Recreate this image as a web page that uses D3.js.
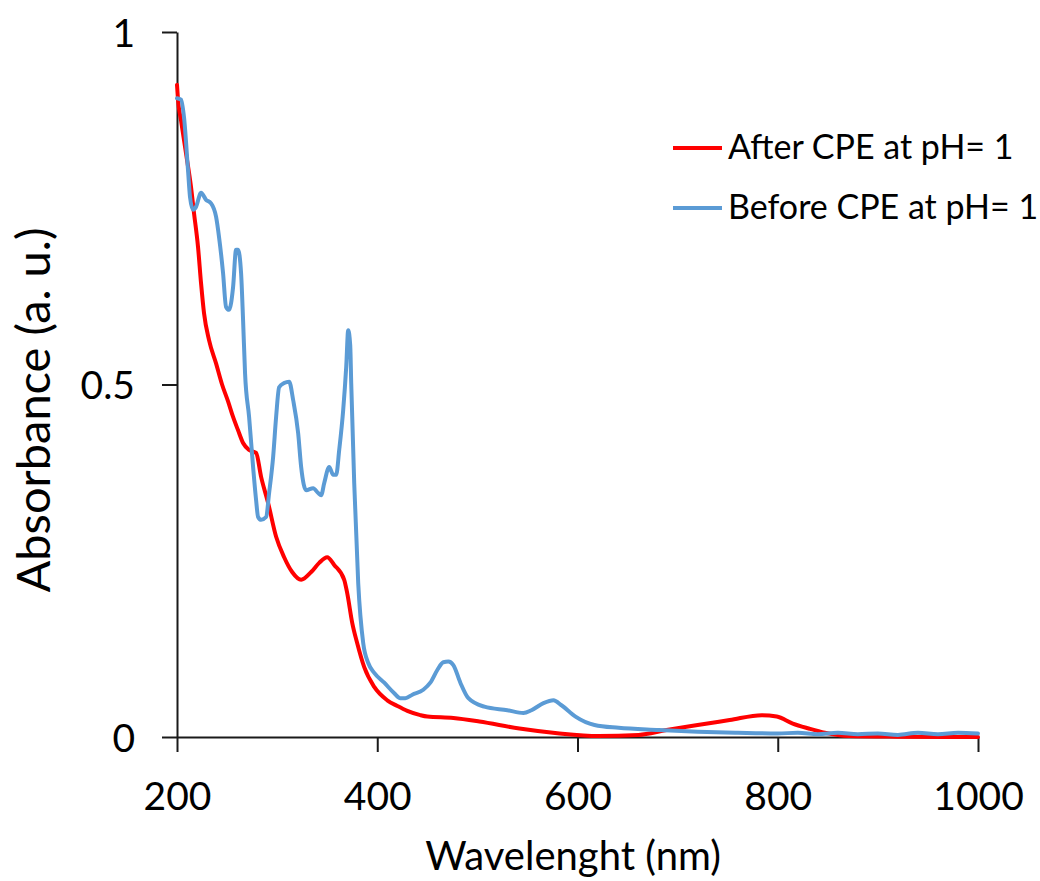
<!DOCTYPE html>
<html>
<head>
<meta charset="utf-8">
<script src="https://cdn.jsdelivr.net/npm/d3@7/dist/d3.min.js"></script>
<style>
  html, body { margin: 0; padding: 0; background: #fff; }
  svg { display: block; }
  text { font-family: Lato, "Open Sans", sans-serif; fill: #000; }
</style>
</head>
<body>
<svg id="chart" width="1040" height="881"></svg>
<script>
// ---- data ----
const beforeWavelength = [200,204,207,211,213,216,219,224,229,234,239,242,246,249,252,256,259,261,264,266,268,272,276,279,281,284,289,292,296,299,302,307,312,316,321,324,329,336,341,344,347,352,356,359,362,366,369,371,373,374,377,381,386,391,397,407,417,423,428,435,446,453,460,466,471,476,483,491,507,530,546,554,566,576,584,598,617,641,681,720,760,800,820,840,860,880,900,920,940,960,980,1000];
const beforeAbsorbance = [0.906,0.904,0.879,0.804,0.766,0.748,0.752,0.772,0.762,0.757,0.738,0.709,0.658,0.610,0.606,0.638,0.691,0.691,0.658,0.591,0.515,0.454,0.383,0.336,0.312,0.308,0.312,0.346,0.397,0.454,0.496,0.502,0.504,0.478,0.431,0.383,0.350,0.353,0.346,0.343,0.360,0.383,0.372,0.372,0.407,0.464,0.525,0.577,0.556,0.502,0.360,0.218,0.133,0.105,0.091,0.077,0.062,0.055,0.055,0.060,0.067,0.077,0.095,0.106,0.107,0.102,0.077,0.055,0.043,0.038,0.034,0.038,0.048,0.052,0.045,0.029,0.017,0.013,0.010,0.0075,0.006,0.005,0.006,0.004,0.006,0.004,0.005,0.003,0.006,0.004,0.006,0.005];

const afterWavelength = [200,201,204,209,214,217,221,224,227,232,239,245,251,256,261,266,272,279,284,291,299,307,315,324,334,342,350,357,367,370,375,380,387,397,410,420,430,443,450,476,502,542,582,621,661,689,720,752,784,799,815,831,847,871,919,1000];
const afterAbsorbance = [0.925,0.904,0.875,0.828,0.780,0.743,0.695,0.644,0.601,0.563,0.530,0.500,0.476,0.454,0.435,0.417,0.407,0.403,0.369,0.332,0.284,0.255,0.234,0.223,0.234,0.247,0.255,0.244,0.223,0.204,0.162,0.133,0.099,0.071,0.052,0.044,0.037,0.031,0.029,0.027,0.022,0.012,0.005,0.0014,0.003,0.010,0.017,0.024,0.031,0.029,0.019,0.012,0.006,0.0014,0.0005,0.0];

const seriesNames = ["After CPE at pH= 1", "Before CPE at pH= 1"];
const seriesColors = ["#ff0000", "#5b9bd5"];
const xTicks = [200, 400, 600, 800, 1000];
const yTicks = [0, 0.5, 1];
const yTickLabels = ["0", "0.5", "1"];
const xTitle = "Wavelenght (nm)";
const yTitle = "Absorbance (a. u.)";

// ---- layout ----
const svg = d3.select("#chart");
const x = d3.scaleLinear().domain([200, 1000]).range([177, 978]);
const y = d3.scaleLinear().domain([0, 1]).range([737, 32]);

const series = [
  {name: seriesNames[0], color: seriesColors[0], pts: afterWavelength.map((w, i) => [w, afterAbsorbance[i]])},
  {name: seriesNames[1], color: seriesColors[1], pts: beforeWavelength.map((w, i) => [w, beforeAbsorbance[i]])}
];

const line = d3.line().x(d => x(d[0])).y(d => y(d[1])).curve(d3.curveMonotoneX);

// axes
const axisColor = "#1a1a1a";
const yAxis = svg.append("g").attr("transform", `translate(${x(200)},0)`)
  .call(d3.axisLeft(y).tickValues(yTicks).tickSize(15).tickSizeOuter(0)
        .tickFormat((d, i) => yTickLabels[i]));
const xAxis = svg.append("g").attr("transform", `translate(0,${y(0)})`)
  .call(d3.axisBottom(x).tickValues(xTicks).tickSize(15).tickSizeOuter(0)
        .tickFormat(d3.format("d")));

[yAxis, xAxis].forEach(g => {
  g.select(".domain").attr("stroke", axisColor).attr("stroke-width", 2);
  g.selectAll(".tick line").attr("stroke", axisColor).attr("stroke-width", 2);
  g.selectAll(".tick text").attr("font-family", "Lato, sans-serif").attr("font-size", 39).attr("fill", "#000");
});
yAxis.selectAll(".tick text").attr("x", -42).attr("dy", "0.36em");
xAxis.selectAll(".tick text").attr("y", 73).attr("dy", 0);

// lines
series.forEach(s => {
  svg.append("path").datum(s.pts)
    .attr("fill", "none")
    .attr("stroke", s.color)
    .attr("stroke-width", 4)
    .attr("stroke-linejoin", "round")
    .attr("stroke-linecap", "round")
    .attr("d", line);
});

// titles
svg.append("text")
  .attr("x", 573).attr("y", 870)
  .attr("text-anchor", "middle")
  .attr("font-size", 40)
  .text(xTitle);

svg.append("text")
  .attr("transform", `translate(50,410) rotate(-90)`)
  .attr("text-anchor", "middle")
  .attr("font-size", 47)
  .text(yTitle);

// legend
const legend = svg.append("g");
const legendY = [148, 208];
series.forEach((s, i) => {
  legend.append("line")
    .attr("x1", 673).attr("x2", 722)
    .attr("y1", legendY[i]).attr("y2", legendY[i])
    .attr("stroke", s.color).attr("stroke-width", 4);
  legend.append("text")
    .attr("x", 728).attr("y", legendY[i] + 11)
    .attr("font-size", 34)
    .text(s.name);
});
</script>
</body>
</html>
